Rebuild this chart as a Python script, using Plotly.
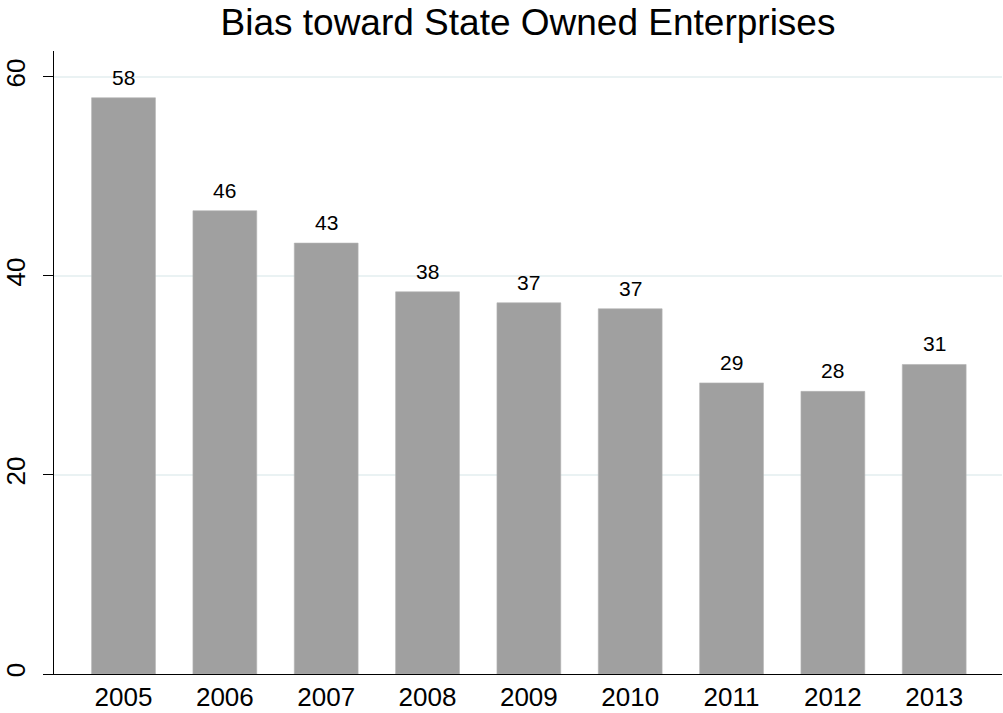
import plotly.graph_objects as go

years = ["2005", "2006", "2007", "2008", "2009", "2010", "2011", "2012", "2013"]
values = [57.9, 46.55, 43.3, 38.4, 37.3, 36.7, 29.25, 28.4, 31.1]
labels = ["58", "46", "43", "38", "37", "37", "29", "28", "31"]
ytick_vals = [0, 20, 40, 60]

FONT = "Liberation Sans, Arial, sans-serif"

fig = go.Figure()
fig.add_trace(go.Bar(
    x=years, y=values, width=0.63,
    marker=dict(color="#a0a0a0", line=dict(color="#b4b4b4", width=0.6)),
    hoverinfo="skip",
))

for i, (v, lab) in enumerate(zip(values, labels)):
    fig.add_annotation(x=i, y=v, xref="x", yref="y", text=lab, showarrow=False,
                       yanchor="bottom", yshift=7,
                       font=dict(family=FONT, size=21, color="#000000"))

fig.update_layout(
    width=1003, height=713,
    margin=dict(l=51, r=1, t=51, b=37),
    paper_bgcolor="white", plot_bgcolor="white",
    showlegend=False,
    title=dict(text="Bias toward State Owned Enterprises", x=0.5, xref="paper",
               y=1 - 22 / 713, yref="container", yanchor="middle", xanchor="center",
               font=dict(family=FONT, size=37, color="#000000")),
    font=dict(family=FONT, color="#000000"),
)
fig.update_xaxes(
    type="category", range=[-0.686, 8.669],
    showline=True, linecolor="#000000", linewidth=1.3,
    ticks="", showgrid=False, zeroline=False,
    tickfont=dict(family=FONT, size=26, color="#000000"),
)
fig.update_yaxes(
    range=[0, 62.6], tickvals=ytick_vals, ticktext=[str(t) for t in ytick_vals],
    showline=True, linecolor="#000000", linewidth=1.3,
    ticks="outside", ticklen=10, tickcolor="#000000", tickwidth=1.3,
    showgrid=True, gridcolor="#eaf2f3", gridwidth=1.5, zeroline=False,
    tickangle=-90, ticklabelstandoff=7,
    tickfont=dict(family=FONT, size=26, color="#000000"),
)

fig.write_html("out.html", config={"displayModeBar": False},
               post_script="document.body.style.margin='0px';")
